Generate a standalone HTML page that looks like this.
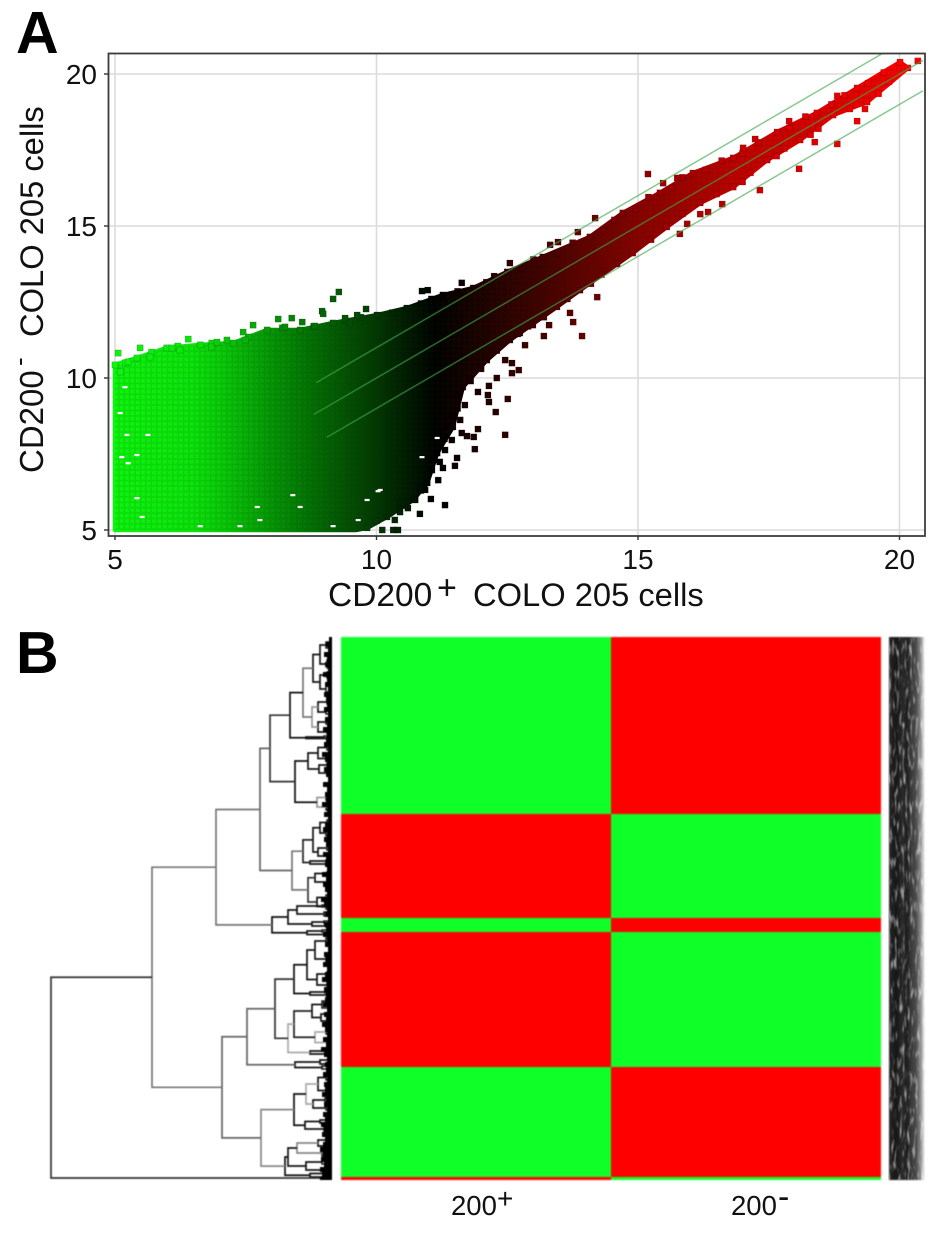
<!DOCTYPE html>
<html lang="en">
<head>
<meta charset="utf-8">
<title>CD200 COLO 205 cells: scatter plot and heat map</title>
<style>
html,body{margin:0;padding:0;background:#fff}
svg{display:block}
text{font-family:"Liberation Sans",sans-serif;fill:#111}
</style>
</head>
<body>
<svg id="fig" xmlns="http://www.w3.org/2000/svg" width="945" height="1233" viewBox="0 0 945 1233">
  <defs>
    <pattern id="cellTex" width="5.4" height="5.4" patternUnits="userSpaceOnUse">
      <rect x="0.5" y="0.5" width="4.6" height="4.6" fill="none" stroke="#003300" stroke-opacity="0.13" stroke-width="0.8"/>
    </pattern>
    <linearGradient id="stripGrad" x1="0" x2="1" y1="0" y2="0">
      <stop offset="0" stop-color="#262626"/>
      <stop offset="0.2" stop-color="#161616"/>
      <stop offset="0.38" stop-color="#2a2a2a"/>
      <stop offset="0.5" stop-color="#1c1c1c"/>
      <stop offset="0.62" stop-color="#3a3a3a"/>
      <stop offset="0.75" stop-color="#4a4a4a"/>
      <stop offset="0.88" stop-color="#8c8c8c"/>
      <stop offset="1" stop-color="#fff"/>
    </linearGradient>
    <filter id="stripNoise" x="0" y="0" width="100%" height="100%" color-interpolation-filters="sRGB">
      <feTurbulence type="fractalNoise" baseFrequency="0.38 0.07" numOctaves="2" seed="4"/>
      <feColorMatrix type="matrix" values="0 0 0 0 1  0 0 0 0 1  0 0 0 0 1  2.2 0 0 0 -1.15"/>
      <feComposite in2="SourceAlpha" operator="in"/>
      <feGaussianBlur stdDeviation="0.5"/>
    </filter>
    <filter id="soft" x="-2%" y="-2%" width="104%" height="104%" color-interpolation-filters="sRGB"><feGaussianBlur stdDeviation="0.8"/></filter>
    <filter id="softer" x="-5%" y="-2%" width="110%" height="104%" color-interpolation-filters="sRGB"><feGaussianBlur stdDeviation="0.45"/></filter>
  </defs>

  <text x="16" y="53" font-size="59" font-weight="bold" style="fill:#000">A</text>
  <text x="16" y="673" font-size="59" font-weight="bold" style="fill:#000">B</text>

  <g id="scatter"></g>

  <text x="328" y="606" font-size="33.5">CD200</text>
  <text x="437" y="599" font-size="34">+</text>
  <text x="473" y="606" font-size="32.7">COLO 205 cells</text>

  <text transform="translate(43,473) rotate(-90)" font-size="33">CD200</text>
  <text transform="translate(28,366) rotate(-90)" font-size="26">-</text>
  <text transform="translate(43,337) rotate(-90)" font-size="32.7">COLO 205 cells</text>

  <g id="dendrogram" filter="url(#softer)"></g>
  <g id="heatmap" filter="url(#soft)"></g>

  <g>
    <rect x="889" y="637" width="36" height="543" fill="url(#stripGrad)" filter="url(#soft)"/>
    <rect x="889" y="637" width="36" height="543" fill="#fff" filter="url(#stripNoise)"/>
  </g>

  <text x="451" y="1215" font-size="27.5">200</text>
  <text x="497" y="1208" font-size="28">+</text>
  <text x="731" y="1215" font-size="27.5">200</text>
  <text x="778" y="1208" font-size="34">-</text>
</svg>

<script>
/* ---------- Panel A data (log2 intensity values) ---------- */
const xTickValues = [5, 10, 15, 20];
const yTickValues = [5, 10, 15, 20];
const foldLineOffsets = [1, 0, -1];
const foldLineStart = [8.85, 8.8, 9.05];
const foldLineEnd = [19.67, 20.45, 20.45];

const upperX = [5.00,5.42,5.99,6.63,7.26,7.91,8.54,9.17,10.01,10.58,11.27,11.85,12.50,13.18,14.08,14.71,15.42,16.05,16.82,17.66,18.42,19.19,20.01];
const upperY = [10.43,10.66,10.99,11.09,11.15,11.58,11.58,11.81,12.07,12.30,12.73,12.96,13.49,13.98,14.64,15.43,16.09,16.74,17.24,18.09,18.72,19.54,20.39];
const lowerX = [20.16,19.38,18.73,18.10,17.47,16.82,16.19,15.55,14.90,13.89,13.45,12.55,12.11,11.65,11.46,11.16,10.97,10.70,10.20,9.82,9.60,5.00];
const lowerY = [20.20,19.08,18.65,17.83,17.17,16.28,15.76,14.97,14.11,12.89,12.34,11.25,10.59,9.70,8.39,7.53,6.55,5.99,5.43,5.07,5.00,5.00];

const edgeX = [10.3,10.85,11.05,11.55,12.1,12.25,12.8,13.0,13.45,13.75,14.35,14.55,14.95,15.2,15.65,15.85,16.3,16.6,17.0,17.3,17.9,18.2,18.7,18.95,19.4,19.7,19.8,19.6,19.05,18.45,18.3,17.8,17.65,17.15,17.0,16.5,15.85,15.25,14.6,14.3,14.1,13.65,13.2,12.9,12.7,12.3,5.2,5.7,6.2,6.85,7.55,8.2,8.8,9.4,9.7,11.3,11.1,10.85,10.5,10.0,11.55,11.8,12.0,11.94,11.79,11.56,11.69,11.44,11.6,11.33,11.44,11.63,11.31,11.21,11.06,11.18,10.93,10.74,10.83,10.45,10.35,12.3,12.46,12.27,12.84,5.1,5.25,5.67,6.24,6.85,7.49,8.25,8.82,9.4];
const edgeY = [12.15,12.45,12.6,12.85,13.15,13.35,13.6,13.9,14.1,14.45,14.85,15.2,15.55,15.95,16.25,16.6,16.85,17.15,17.4,17.75,18.2,18.6,19.0,19.3,19.7,20.05,19.75,19.35,18.85,18.2,18.0,17.55,17.3,16.75,16.45,16.05,15.4,14.55,13.75,13.4,13.1,12.6,12.0,11.7,11.45,10.9,10.5,10.85,11.05,11.15,11.35,11.65,11.7,11.9,12.0,8.0,7.3,6.3,5.8,5.3,9.0,9.9,10.3,9.54,9.93,9.44,9.11,8.78,8.62,8.45,7.96,8.19,7.63,7.24,6.97,6.64,6.32,5.99,6.41,5.59,5.33,10.0,10.59,10.92,11.08,10.2,10.53,10.69,10.92,11.02,11.25,11.68,11.71,11.97];

const outlierX = [9.28,9.17,9.80,9.63,8.96,8.98,8.12,8.38,8.58,7.64,6.40,5.06,5.48,6.09,6.95,7.14,7.45,9.49,11.63,10.87,10.98,12.55,14.18,13.32,13.47,13.85,15.19,15.48,15.75,17.24,17.01,17.89,18.81,20.35,19.34,19.19,18.81,18.38,18.08,17.33,16.61,16.34,16.19,15.94,15.80,14.22,13.93,13.76,13.70,13.20,13.30,12.99,12.74,12.59,12.72,12.59,12.15,12.51,12.13,12.15,12.28,11.94,12.46,11.73,11.86,11.88,11.50,11.54,11.27,11.04,11.31,10.83,10.60,10.45,10.32,10.11,10.41];
const outlierY = [12.83,12.60,12.27,12.07,12.20,12.11,11.94,11.97,11.84,11.74,11.28,10.82,10.99,10.99,11.18,11.25,11.51,11.81,13.13,12.86,12.89,13.78,15.26,14.38,14.47,14.80,16.71,16.41,16.58,17.86,17.57,18.45,19.28,20.43,18.85,18.45,17.70,17.76,16.88,16.18,15.72,15.46,15.39,15.07,14.74,12.66,11.38,11.84,12.14,11.38,11.74,11.74,11.48,10.49,10.26,10.16,9.74,9.31,9.44,9.21,8.88,8.32,8.13,8.09,8.06,7.66,7.11,7.37,7.04,6.02,5.82,5.53,5.72,5.89,5.00,5.00,5.00];

const gapX = [5.13,5.23,5.10,5.19,5.63,5.42,5.25,5.52,6.63,7.39,7.77,7.72,8.40,8.54,9.17,9.82,10.03,9.65,5.42,11.16,10.87,10.07];
const gapY = [7.40,8.13,8.85,9.70,8.13,7.47,7.20,5.43,5.13,5.13,5.33,5.76,6.15,5.76,5.13,5.99,6.28,5.33,6.05,8.03,7.40,6.32];

const colorValues = [5, 6.5, 7, 8, 9, 10, 11.1, 12, 13, 15, 17, 20];
const colorReds   = [14, 12, 10, 6, 4, 3, 0, 30, 62, 138, 196, 250];
const colorGreens = [245, 228, 205, 150, 100, 55, 0, 0, 0, 0, 0, 0];
const colorBlues  = [14, 12, 10, 6, 4, 3, 0, 0, 0, 0, 0, 0];

/* ---------- Panel B data ---------- */
const heatRowSizes = [177, 104, 14, 135, 110, 3];
const heat200Plus  = [-1, 1, -1, 1, -1, 1];
const heat200Minus = [1, -1, 1, -1, 1, -1];

/* Dendrogram: [merge distance, upper child, lower child, tone]; a bare number is a leaf row. */
const n313a = [19,[12,[6,642,648],[5,660,668]],[12,[5,672,678],[6,686,692]]];
const n312a = [20,[14,[5,700,704],[6,710,714]],[14,[6,720,724],[5,730,734]],"#999"];
const n303a = [29,n313a,n312a,"#777"];
const n290 = [42,n303a,[26,[8,736,738],[5,737,740]],"#111"];
const n309 = [24,[14,[5,745,750],[6,756,761]],[13,[5,763,767],[5,771,775]]];
const n295 = [37,n309,[15,[6,795,800],[6,804,810],"#999"],"#111"];
const n270 = [62,n290,n295,"#333"];
const n313b = [19,[12,[5,820,825],[6,830,836]],[14,[5,846,850],[5,854,858]]];
const n303b = [29,n313b,[22,[6,860,862],[4,863,865]],"#222"];
const n308 = [24,[17,[5,872,875],[5,880,884]],[15,[6,895,900],[6,904,909]],"#333"];
const n292 = [40,n303b,n308,"#777"];
const n260 = [72,n270,n292,"#666"];
const n288a = [44,[35,[10,905,907],[8,912,916]],[20,[8,921,923],[6,925,927]]];
const n272 = [60,n288a,[25,[10,930,932],[6,933,936]],"#111"];
const n216 = [116,n260,n272,"#777"];
const n307a = [25,[17,[6,938,944],[6,956,962]],[15,[5,972,976],[5,982,988]]];
const n294a = [38,n307a,[22,[7,991,993],[4,994,996]],"#111"];
const n294b = [38,[20,[10,1001,1008],[11,1014,1021]],[17,[6,1030,1034],[5,1040,1045],"#aaa"],"#222"];
const n288c = [44,n294b,[22,[6,1050,1052],[5,1053,1055]],"#aaa"];
const n275 = [57,n294a,n288c,"#333"];
const n247 = [85,n275,[37,[12,1060,1064],[10,1066,1069]],"#666"];
const n306 = [26,[14,[6,1075,1080],[6,1088,1093]],[19,[7,1098,1102],[6,1106,1110]],"#aaa"];
const n294c = [38,n306,[27,[12,1120,1123],[8,1127,1131]],"#111"];
const n288d = [44,[35,[14,1140,1146],[10,1150,1156],"#888"],[26,[10,1160,1164],[7,1168,1172]]];
const n284 = [47,n288d,[22,[8,1172,1175],[6,1176,1178]],"#111"];
const n261 = [71,n294c,n284,"#888"];
const n222 = [110,n247,n261,"#666"];
const n152 = [180,n216,n222,"#777"];
const dendroRoot = [281,n152,1178,"#333"];

/* Width of the dense leaf comb, one value per 5 rows from the top of the tree. */
const fringeWidths = [3,6,4,8,5,7,4,9,5,7,4,8,6,5,8,4,7,5,9,5,6,8,4,10,7,5,8,6,4,9,5,7,6,10,5,8,4,7,9,5,8,6,4,9,6,7,5,10,6,9,7,5,11,8,5,7,4,8,6,9,5,7,4,8,6,9,5,7,10,5,8,6,7,9,5,8,6,10,7,5,9,6,11,8,5,7,6,9,5,8,7,10,6,8,5,9,7,11,8,10,7,9,12,9,11,8,12,10,12];
const fringeFirstRow = 637;
const fringeRowStep = 5;

/* ---------- Helpers ---------- */
const NS = "http://www.w3.org/2000/svg";
const xScale = v => 115 + (v - 5) * 52.3;
const yScale = v => 530 - (v - 5) * 30.4;
const colScale = i => 341 + i * 270;
const rowOrigin = 637;
const distX = d => 332 - d;
const rowY = r => r;
function mk(tag, attrs, parent){
  const el = document.createElementNS(NS, tag);
  for (const k in attrs) el.setAttribute(k, attrs[k]);
  parent.appendChild(el);
  return el;
}
function colorAt(v){
  let i = 0;
  while (i < colorValues.length - 2 && v > colorValues[i + 1]) i++;
  const t = Math.max(0, Math.min(1, (v - colorValues[i]) / (colorValues[i + 1] - colorValues[i])));
  const c = a => Math.round(a[i] + (a[i + 1] - a[i]) * t);
  return "rgb(" + c(colorReds) + "," + c(colorGreens) + "," + c(colorBlues) + ")";
}

/* ---------- Panel A ---------- */
const scatter = document.getElementById("scatter");
const defs = document.querySelector("defs");
const grad = mk("linearGradient", {id:"cloudGrad", gradientUnits:"userSpaceOnUse", x1:xScale(5), x2:xScale(20), y1:0, y2:0}, defs);
colorValues.forEach(v => {
  mk("stop", {offset:(v - 5) / 15, "stop-color":colorAt(v)}, grad);
});

xTickValues.forEach(v => {
  const g = mk("line", {x1:xScale(v), x2:xScale(v), y1:54, y2:535, stroke:"#dcdcdc", "stroke-width":1.6}, scatter);
  
  
});
yTickValues.forEach(v => {
  const g = mk("line", {x1:109, x2:924, y1:yScale(v), y2:yScale(v), stroke:"#dcdcdc", "stroke-width":1.6}, scatter);
  
  
});

const cloudPts = upperX.map((v, i) => xScale(v) + "," + yScale(upperY[i]))
  .concat(lowerX.map((v, i) => xScale(v) + "," + yScale(lowerY[i]))).join(" ");
const cloud = mk("polygon", {points:cloudPts, fill:"url(#cloudGrad)", stroke:"url(#cloudGrad)", "stroke-width":4.5, "stroke-linejoin":"round"}, scatter);


const tex = mk("polygon", {points:cloudPts, fill:"url(#cellTex)"}, scatter);



function square(vx, vy, name){
  const r = mk("rect", {x:xScale(vx) - 3.1, y:yScale(vy) - 3.1, width:6.2, height:6.2,
    fill:colorAt(vx), stroke:"#000", "stroke-opacity":0.25, "stroke-width":0.6}, scatter);
  
  
}
upperX.forEach((v, i) => square(v, upperY[i], 'envelope-point'));
lowerX.slice(0, -2).forEach((v, i) => square(v, lowerY[i], 'envelope-point'));
edgeX.forEach((v, i) => square(v, edgeY[i], 'edge-point'));
outlierX.forEach((v, i) => square(v, outlierY[i], 'outlier-point'));

gapX.forEach((v, i) => {
  const r = mk("rect", {x:xScale(v) - 2.5, y:yScale(gapY[i]) - 1, width:5, height:2.2, fill:"#fff"}, scatter);
  
  
});

foldLineOffsets.forEach((off, i) => {
  const l = mk("line", {x1:xScale(foldLineStart[i]), y1:yScale(foldLineStart[i] + off),
    x2:xScale(foldLineEnd[i]), y2:yScale(foldLineEnd[i] + off),
    stroke:"#3fa84a", "stroke-opacity":0.62, "stroke-width":1.5}, scatter);
  
  
});

const frame = mk("rect", {x:108.5, y:53.5, width:816.5, height:482.5, fill:"none", stroke:"#3c3c3c", "stroke-width":1.8}, scatter);



xTickValues.forEach(v => {
  const t = mk("line", {x1:xScale(v), x2:xScale(v), y1:536, y2:540, stroke:"#333", "stroke-width":1.4}, scatter);
  
  
  const s = mk("text", {x:xScale(v), y:569, "text-anchor":"middle", "font-size":28}, scatter);
  
  
  s.textContent = v;
});
yTickValues.forEach(v => {
  const t = mk("line", {x1:104, x2:108, y1:yScale(v), y2:yScale(v), stroke:"#333", "stroke-width":1.4}, scatter);
  
  
  const s = mk("text", {x:97, y:yScale(v) + 10, "text-anchor":"end", "font-size":28}, scatter);
  
  
  s.textContent = v;
});

/* ---------- Panel B: heat map ---------- */
const heat = document.getElementById("heatmap");
const cellColor = v => v > 0 ? "#ff0000" : "#0fff28";
let rowCursor = 0;
heatRowSizes.forEach((size, i) => {
  [heat200Plus[i], heat200Minus[i]].forEach((v, c) => {
    const r = mk("rect", {x:colScale(c), y:rowOrigin + rowCursor, width:270, height:size, fill:cellColor(v)}, heat);
    
    
  });
  rowCursor += size;
});

/* ---------- Panel B: dendrogram ---------- */
const dendro = document.getElementById("dendrogram");
function drawNode(node){
  if (typeof node === "number") return {x:distX(0), y:rowY(node)};
  const a = drawNode(node[1]);
  const b = drawNode(node[2]);
  const x = distX(node[0]);
  const tone = node[3] || "#151515";
  const p = mk("path", {d:"M" + a.x + " " + a.y + "H" + x + "V" + b.y + "H" + b.x,
    fill:"none", stroke:tone, "stroke-width":node[0] > 10 ? 1.7 : 1.5}, dendro);
  
  
  return {x:x, y:(a.y + b.y) / 2};
}
drawNode(dendroRoot);

let fringePath = "M332 " + rowY(fringeFirstRow);
fringeWidths.forEach((w, i) => {
  const top = rowY(fringeFirstRow + i * fringeRowStep);
  const bottom = Math.min(top + fringeRowStep, 1180);
  fringePath += "L" + distX(w) + " " + top + "L" + distX(w) + " " + bottom;
});
fringePath += "L332 1180Z";
const fringe = mk("path", {d:fringePath, fill:"#000"}, dendro);


</script>
</body>
</html>
